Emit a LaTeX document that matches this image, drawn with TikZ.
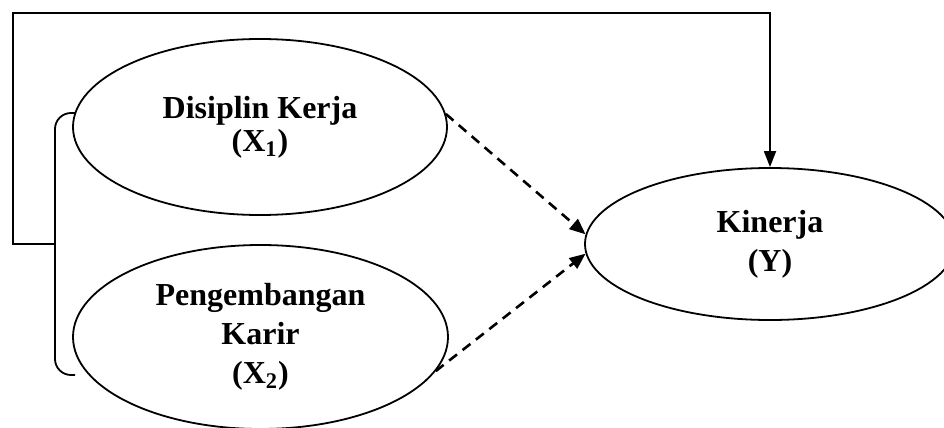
\documentclass[tikz,border=0pt]{standalone}
\usepackage{fontspec}
\setmainfont{Liberation Serif}
\usepackage{tikz}
\usetikzlibrary{shapes}
\usetikzlibrary{positioning}
\usetikzlibrary{arrows.meta}

\tikzset{
    construct/.style={ellipse, draw, line width=0.9pt, inner sep=0pt, align=center, font=\fontsize{16}{19.5}\selectfont\bfseries},
    effect/.style={line width=1.3pt, dash pattern=on 5pt off 3.5pt, -{Triangle[length=8pt,width=6.5pt]}},
    feedback/.style={line width=0.9pt, -{Triangle[length=8pt,width=6pt]}}
}

\begin{document}
\begin{tikzpicture}[x=0.5pt, y=-0.5pt]
    \useasboundingbox (0,0) rectangle (944,428);

    \node (disiplin_kerja) [construct, minimum width=187pt, minimum height=88pt] at (260,127) {Disiplin Kerja\\[-3pt](X\textsubscript{1})};

    \node (pengembangan_karir) [construct, minimum width=187.5pt, minimum height=92pt] at (260.5,337) {Pengembangan\\Karir\\(X\textsubscript{2})};

    \node (kinerja) [construct, minimum width=185pt, minimum height=76pt] at (770,244) {Kinerja\\(Y)};

    \coordinate (brace_top) at (75,113);
    \coordinate (brace_bottom) at (75,375);
    \coordinate (brace_mid) at (55,244);
    \coordinate (loop_corner) at (13,13);

    \draw [line width=0.9pt, rounded corners=8pt] (brace_top) -- (brace_top -| brace_mid) -- (brace_bottom -| brace_mid) -- (brace_bottom);

    \draw [feedback] (brace_mid) -| (loop_corner) -| (kinerja.north);

    \draw [effect] (disiplin_kerja.4) -- (kinerja.177);
    \draw [effect] (pengembangan_karir.349) -- (kinerja.183);

\end{tikzpicture}
\end{document}
